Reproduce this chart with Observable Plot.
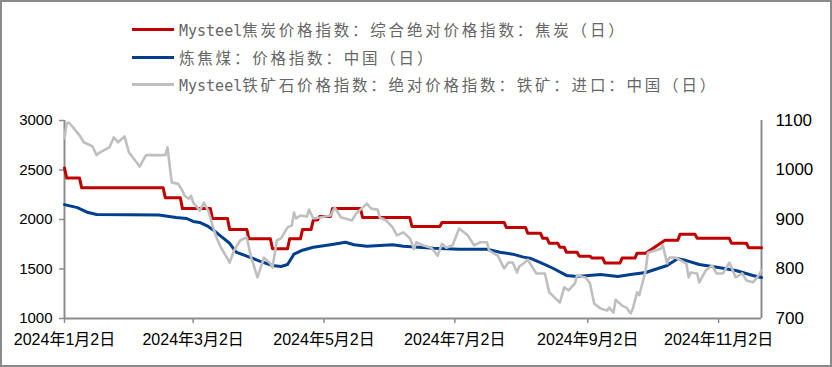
<!DOCTYPE html>
<html>
<head>
<meta charset="utf-8">
<script src="https://cdn.jsdelivr.net/npm/d3@7"></script>
<script src="https://cdn.jsdelivr.net/npm/@observablehq/plot@0.6"></script>
<style>
  html, body { margin: 0; padding: 0; background: #fff; }
  #wrap { position: relative; width: 832px; height: 367px; overflow: hidden; background: #fff; }
  #frame { position: absolute; left: 0; top: 0; width: 832px; height: 367px; box-sizing: border-box; border: 2px solid #8a8a8a; pointer-events: none; }
  #legend { position: relative; height: 105px; width: 832px; }
  .lg-line { position: absolute; left: 132px; width: 42px; height: 3px; }
  .lg-text { position: absolute; left: 179px; height: 20px; line-height: 20px; white-space: nowrap; color: #666; font-family: "DejaVu Sans Mono", monospace; font-size: 15px; }
  .lg-text .cjk { font-family: "Noto Sans CJK SC", sans-serif; font-size: 15.5px; letter-spacing: 2.8px; }
  svg { display: block; }
</style>
</head>
<body>
<div id="wrap">
  <div id="legend"></div>
  <div id="chart"></div>
  <div id="frame"></div>
</div>
<script>
// ---- Legend labels & colours ----
const seriesNames = [
  "Mysteel焦炭价格指数：综合绝对价格指数：焦炭（日）",
  "炼焦煤：价格指数：中国（日）",
  "Mysteel铁矿石价格指数：绝对价格指数：铁矿：进口：中国（日）"
];
const seriesColors = ["#C00000", "#003F8E", "#BFBFBF"];

// ---- Axis ticks ----
const leftTicks = [1000, 1500, 2000, 2500, 3000];
const rightTicks = [700, 800, 900, 1000, 1100];
const xTickDates = ["2024-01-02", "2024-03-02", "2024-05-02", "2024-07-02", "2024-09-02", "2024-11-02"];
const xDomain = ["2024-01-02", "2024-11-22"];

// ---- Series 1: coke price index (left axis) ----
const cokeDates = [
  "2024-01-02","2024-01-03","2024-01-09","2024-01-10","2024-02-17","2024-02-18","2024-02-25","2024-02-26",
  "2024-03-10","2024-03-11","2024-03-18","2024-03-19","2024-03-27","2024-03-28","2024-04-07","2024-04-08",
  "2024-04-15","2024-04-16","2024-04-21","2024-04-22","2024-04-26","2024-04-27","2024-04-29","2024-04-30",
  "2024-05-05","2024-05-06","2024-05-19","2024-05-20","2024-06-11","2024-06-12","2024-06-25","2024-06-26",
  "2024-07-25","2024-07-26","2024-08-04","2024-08-05","2024-08-11","2024-08-12","2024-08-14","2024-08-15",
  "2024-08-19","2024-08-20","2024-08-22","2024-08-23","2024-08-28","2024-08-29","2024-09-03","2024-09-04",
  "2024-09-09","2024-09-10","2024-09-17","2024-09-18","2024-09-24","2024-09-25","2024-09-29","2024-10-08",
  "2024-10-14","2024-10-15","2024-10-22","2024-10-23","2024-11-07","2024-11-08","2024-11-15","2024-11-16","2024-11-22"
];
const cokeValues = [
  2520,2420,2420,2320,2320,2220,2220,2110,
  2110,2010,2010,1900,1900,1805,1805,1705,
  1705,1805,1805,1900,1900,1995,1995,2030,
  2030,2110,2110,2020,2020,1930,1930,1970,
  1970,1920,1920,1860,1860,1810,1810,1760,
  1760,1720,1720,1670,1670,1630,1630,1610,
  1610,1560,1560,1610,1610,1660,1660,1790,
  1790,1850,1850,1810,1810,1760,1760,1715,1715
];

// ---- Series 2: coking coal price index (left axis) ----
const coalDates = [
  "2024-01-02","2024-01-08","2024-01-13","2024-01-17","2024-02-15","2024-02-23","2024-02-28","2024-03-02",
  "2024-03-05","2024-03-09","2024-03-11","2024-03-15","2024-03-19","2024-03-22","2024-03-27","2024-04-02",
  "2024-04-08","2024-04-12","2024-04-15","2024-04-18","2024-04-22","2024-04-27","2024-05-05","2024-05-12",
  "2024-05-16","2024-05-22","2024-06-03","2024-06-08","2024-06-22","2024-07-04","2024-07-17","2024-07-23",
  "2024-07-29","2024-08-03","2024-08-06","2024-08-11","2024-08-17","2024-08-23","2024-08-28","2024-09-08",
  "2024-09-16","2024-09-22","2024-09-29","2024-10-09","2024-10-14","2024-10-18","2024-10-24","2024-11-02",
  "2024-11-10","2024-11-18","2024-11-22"
];
const coalValues = [
  2150,2120,2070,2050,2045,2020,2010,1980,
  1970,1930,1900,1830,1760,1670,1630,1580,
  1535,1525,1545,1650,1690,1720,1745,1770,
  1745,1730,1745,1730,1710,1700,1700,1670,
  1650,1620,1610,1565,1505,1435,1425,1445,
  1425,1445,1465,1535,1605,1585,1545,1515,
  1485,1435,1415
];

// ---- Series 3: imported iron ore price index (right axis) ----
const oreDates = [
  "2024-01-02","2024-01-03","2024-01-04","2024-01-06","2024-01-09","2024-01-11","2024-01-15","2024-01-17",
  "2024-01-18","2024-01-23","2024-01-25","2024-01-27","2024-01-30","2024-02-01","2024-02-05","2024-02-06",
  "2024-02-09","2024-02-18","2024-02-19","2024-02-21","2024-02-24","2024-02-26","2024-02-27","2024-02-29",
  "2024-03-01","2024-03-02","2024-03-04","2024-03-05","2024-03-07","2024-03-09","2024-03-10","2024-03-11",
  "2024-03-13","2024-03-15","2024-03-18","2024-03-19","2024-03-21","2024-03-24","2024-03-27","2024-03-29",
  "2024-03-30","2024-04-01","2024-04-04","2024-04-07","2024-04-08","2024-04-10","2024-04-12","2024-04-15",
  "2024-04-17","2024-04-18","2024-04-19","2024-04-21","2024-04-24","2024-04-25","2024-04-27","2024-04-30",
  "2024-05-05","2024-05-07","2024-05-10","2024-05-12","2024-05-15","2024-05-17","2024-05-20","2024-05-22",
  "2024-05-24","2024-05-27","2024-05-28","2024-05-31","2024-06-03","2024-06-05","2024-06-08","2024-06-11",
  "2024-06-13","2024-06-14","2024-06-17","2024-06-21","2024-06-24","2024-06-26","2024-06-28","2024-07-01",
  "2024-07-04","2024-07-08","2024-07-11","2024-07-14","2024-07-17","2024-07-18","2024-07-22","2024-07-25",
  "2024-07-27","2024-07-29","2024-07-31","2024-08-01","2024-08-03","2024-08-05","2024-08-07","2024-08-09",
  "2024-08-13","2024-08-15","2024-08-20","2024-08-22","2024-08-24","2024-08-27","2024-08-28","2024-09-01",
  "2024-09-03","2024-09-05","2024-09-08","2024-09-11","2024-09-12","2024-09-14","2024-09-15","2024-09-18",
  "2024-09-20","2024-09-22","2024-09-23","2024-09-25","2024-09-26","2024-09-29","2024-09-30","2024-10-06",
  "2024-10-07","2024-10-09","2024-10-10","2024-10-13","2024-10-18","2024-10-19","2024-10-20","2024-10-23",
  "2024-10-24","2024-10-27","2024-10-30","2024-11-01","2024-11-04","2024-11-07","2024-11-10","2024-11-13",
  "2024-11-15","2024-11-18","2024-11-20","2024-11-22"
];
const oreValues = [
  1064,1094,1096,1086,1070,1056,1048,1030,
  1034,1046,1066,1056,1068,1036,1013,1007,
  1030,1030,1046,975,972,958,948,942,
  948,934,924,918,934,918,904,888,
  862,843,821,813,837,858,864,823,
  811,783,823,811,803,858,862,884,
  888,914,902,908,906,920,902,904,
  908,924,904,902,898,912,924,932,
  922,920,904,898,884,868,874,862,
  840,854,848,843,827,851,843,848,
  882,868,848,854,854,837,827,801,
  813,813,793,805,811,819,805,791,
  791,753,732,763,757,771,787,783,
  771,730,720,716,722,712,738,726,
  722,710,720,753,747,797,833,841,
  848,811,823,823,811,783,793,791,
  773,797,807,791,791,813,783,791,
  777,773,783,797
];

// ---- Build tables ----
const parse = d3.utcParse("%Y-%m-%d");
const toLeft = v => 1000 + (v - 700) * 5; // right axis 700..1100 -> left 1000..3000
const coke = cokeDates.map((d, i) => ({date: parse(d), value: cokeValues[i]}));
const coal = coalDates.map((d, i) => ({date: parse(d), value: coalValues[i]}));
const ore = oreDates.map((d, i) => ({date: parse(d), value: toLeft(oreValues[i])}));
const xd = xDomain.map(parse);
const xt = xTickDates.map(parse);
const fmtDate = d => `${d.getUTCFullYear()}年${d.getUTCMonth() + 1}月${d.getUTCDate()}日`;
const axisGray = "#8c8c8c";

// ---- Legend (HTML, above the SVG) ----
const legend = document.getElementById("legend");
const rowCenters = [29, 57, 84];
function runs(s) {
  const out = [];
  for (const ch of s) {
    const cjk = ch.charCodeAt(0) > 255;
    if (out.length && out[out.length - 1].cjk === cjk) out[out.length - 1].t += ch;
    else out.push({cjk, t: ch});
  }
  return out;
}
seriesNames.forEach((name, i) => {
  const ln = document.createElement("div");
  ln.className = "lg-line";
  ln.style.top = (rowCenters[i] - 1.5) + "px";
  ln.style.background = seriesColors[i];
  legend.appendChild(ln);
  const tx = document.createElement("div");
  tx.className = "lg-text";
  tx.style.top = (rowCenters[i] - 10) + "px";
  for (const r of runs(name)) {
    const sp = document.createElement("span");
    if (r.cjk) sp.className = "cjk";
    sp.textContent = r.t;
    tx.appendChild(sp);
  }
  legend.appendChild(tx);
});

// ---- Chart ----
const chart = Plot.plot({
  width: 832,
  height: 262,
  marginTop: 15,
  marginBottom: 49,
  marginLeft: 64,
  marginRight: 71,
  style: {fontFamily: "'Liberation Sans', Arial, 'Noto Sans CJK SC', sans-serif", color: "#000", background: "transparent"},
  x: {type: "utc", domain: xd},
  y: {domain: [1000, 3000]},
  marks: [
    Plot.axisY({anchor: "left", ticks: leftTicks, tickSize: 5, tickPadding: 7, stroke: axisGray, strokeWidth: 1.5,
      tickFormat: d => String(d), fontSize: 15, fill: "#000", label: null}),
    Plot.axisY({anchor: "right", ticks: leftTicks, tickSize: 0, tickPadding: 14,
      tickFormat: d => String(700 + (d - 1000) / 5), fontSize: 17, fill: "#000", label: null}),
    Plot.axisX({anchor: "bottom", ticks: xt, tickSize: 5, tickPadding: 10, stroke: axisGray, strokeWidth: 1.5,
      tickFormat: fmtDate, fontSize: 16, fill: "#000", label: null}),
    Plot.ruleX([xd[0]], {stroke: axisGray, strokeWidth: 2}),
    Plot.ruleX([xd[1]], {stroke: axisGray, strokeWidth: 2}),
    Plot.ruleY([1000], {stroke: axisGray, strokeWidth: 2}),
    Plot.line(coal, {x: "date", y: "value", stroke: seriesColors[1], strokeWidth: 3, strokeLinejoin: "round"}),
    Plot.line(coke, {x: "date", y: "value", stroke: seriesColors[0], strokeWidth: 3, strokeLinejoin: "round"}),
    Plot.line(ore, {x: "date", y: "value", stroke: seriesColors[2], strokeWidth: 2.6, strokeLinejoin: "round"})
  ]
});
document.getElementById("chart").appendChild(chart);
</script>
</body>
</html>
